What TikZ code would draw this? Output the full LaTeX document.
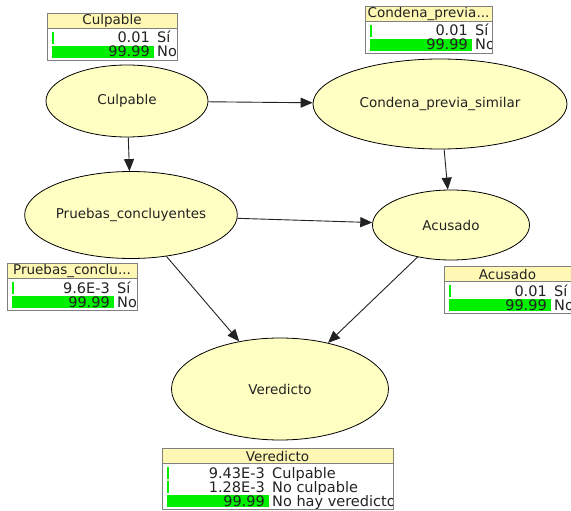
\documentclass[tikz,border=0pt]{standalone}
\usepackage{fontspec}
\setmainfont{DejaVu Sans}
\usetikzlibrary{arrows.meta,shapes.geometric}
\definecolor{nodefill}{HTML}{FFFFC4}
\definecolor{titlefill}{HTML}{FFF8B4}
\definecolor{barfill}{HTML}{00F000}
\definecolor{framegray}{HTML}{808080}
\definecolor{inkgray}{HTML}{222222}

\tikzset{
  var/.style={ellipse, draw=black, line width=0.8pt, fill=nodefill, inner sep=0pt,
    font=\fontsize{13.5}{15}\selectfont, text=inkgray},
  link/.style={draw=inkgray, line width=0.9pt, -{Triangle[length=12pt,width=10pt]}},
  monframe/.style={draw=framegray, line width=0.9pt},
  montitle/.style={font=\fontsize{13.5}{15}\selectfont, text=inkgray, inner sep=0pt},
  monval/.style={font=\fontsize{14.5}{16}\selectfont, text=inkgray, inner sep=0pt},
}

% Belief monitor: #1 id, #2 left, #3 top, #4 width, #5 title,
% #6 number of rows, #7 rows as value/label/bar length
\newcommand\bnmonitor[7]{%
  \pgfmathsetmacro\monbottom{25+14*(#6-1)+8}
  \begin{scope}[shift={(#2,#3)}]
    \fill[white] (0,0) rectangle (#4,\monbottom);
    \fill[titlefill] (0,0) rectangle (#4,15);
    \node[montitle] (#1-title) at ({#4/2},8) {#5};
    \begin{scope}
      \clip (0,0) rectangle (#4,\monbottom);
      \foreach \val/\lab/\len [count=\i] in {#7} {
        \pgfmathsetmacro\rowy{25+14*(\i-1)}
        \fill[barfill] (4.5,\rowy-6) rectangle (4.5+\len,\rowy+6);
        \node[monval, anchor=base east] (#1-v\i) at (103,\rowy+5) {\val};
        \node[monval, anchor=base west] (#1-l\i) at (110,\rowy+5) {\lab};
      }
    \end{scope}
    \draw[monframe] (0,0) rectangle (#4,\monbottom);
    \draw[monframe] (0,15) -- (#4,15);
  \end{scope}
}

\begin{document}
\begin{tikzpicture}[x=1pt,y=-1pt]
  \useasboundingbox (0,0) rectangle (571,511);
  \fill[white] (0,0) rectangle (571,511);

  % variables
  \node[var, minimum width=162pt, minimum height=72pt]  (cul)  at (127,101) {Culpable};
  \node[var, minimum width=254pt, minimum height=90pt]  (cond) at (440,104) {Condena\_previa\_similar};
  \node[var, minimum width=208pt, minimum height=87pt]  (prue) at (131,215) {Pruebas\_concluyentes};
  \node[var, minimum width=157pt, minimum height=70pt]  (acu)  at (451,225) {Acusado};
  \node[var, minimum width=217pt, minimum height=102pt] (ver)  at (280,389) {Veredicto};

  % dependencies
  \draw[link] (cul) -- (cond);
  \draw[link] (cul) -- (prue);
  \draw[link] (prue) -- (acu);
  \draw[link] (cond) -- (acu);
  \draw[link] (prue) -- (ver);
  \draw[link] (acu) -- (ver);

  % belief monitors
  \bnmonitor{mcul}{47}{13}{130}{Culpable}{2}{0.01/Sí/2, 99.99/No/102}
  \bnmonitor{mcond}{365}{6}{127}{Condena\_previa...}{2}{0.01/Sí/2, 99.99/No/102}
  \bnmonitor{mprue}{7}{263}{130}{Pruebas\_conclu...}{2}{9.6E-3/Sí/2, 99.99/No/102}
  \bnmonitor{macu}{444}{266}{127}{Acusado}{2}{0.01/Sí/2, 99.99/No/102}
  \bnmonitor{mver}{162}{448}{231}{Veredicto}{3}{9.43E-3/Culpable/2, 1.28E-3/No culpable/2, 99.99/No hay veredicto/102}
\end{tikzpicture}
\end{document}
